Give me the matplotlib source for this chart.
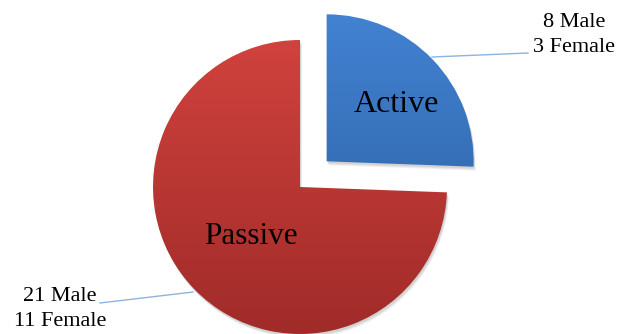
import numpy as np
import matplotlib
matplotlib.use("Agg")
import matplotlib.pyplot as plt
from matplotlib.colors import LinearSegmentedColormap

# Data
categories = ["Active", "Passive"]
male = [8, 21]
female = [3, 11]
totals = [m + f for m, f in zip(male, female)]
outer_labels = [f"{m} Male\n{f} Female" for m, f in zip(male, female)]

W, H = 620, 334
fig = plt.figure(figsize=(6.2, 3.34), dpi=100)
ax = fig.add_axes([0, 0, 1, 1])

center = (300, H - 187)
radius = 147
explode = [37, 0.0]  # offset in data units (pixels)

wedges, texts = ax.pie(totals, startangle=90, counterclock=False, explode=explode,
                       center=center, radius=radius, labels=None,
                       wedgeprops=dict(linewidth=0))

grads = [("#4282d2", "#2b5e9f"), ("#d0423d", "#a02b29")]
for w, (ctop, cbot) in zip(wedges, grads):
    # soft shadow
    for k, a in [(4, 0.05), (3, 0.06), (2, 0.07)]:
        sh = matplotlib.patches.Wedge((w.center[0] + k * 0.5, w.center[1] - k), w.r, w.theta1, w.theta2,
                                      facecolor="#000000", alpha=a, linewidth=0, zorder=0.5)
        ax.add_patch(sh)
    w.set_facecolor("none")
    w.set_zorder(2)
    cmap = LinearSegmentedColormap.from_list("g", [cbot, ctop])
    x0, y0 = w.center[0] - w.r, w.center[1] - w.r
    grad = np.linspace(0, 1, 256).reshape(-1, 1)
    im = ax.imshow(grad, cmap=cmap, origin="lower", aspect="auto",
                   extent=[x0, x0 + 2 * w.r, y0, y0 + 2 * w.r], zorder=1)
    im.set_clip_path(w)

serif = ["Liberation Serif", "DejaVu Serif"]
# inner labels
ax.text(396, H - 105, categories[0], ha="center", va="center", fontsize=23, family=serif, color="black", zorder=3)
ax.text(251, H - 236, categories[1], ha="center", va="center", fontsize=22.5, family=serif, color="black", zorder=3)

# outer labels
ax.text(574, H - 35, outer_labels[0], ha="center", va="center", fontsize=16, family=serif,
        linespacing=1.4, color="black")
ax.text(60, H - 309, outer_labels[1], ha="center", va="center", fontsize=16, family=serif,
        linespacing=1.4, color="black")

# leader lines
ax.plot([432, 528], [H - 57, H - 53], color="#8fb3e0", lw=1, zorder=3)
ax.plot([193, 100], [H - 292, H - 303], color="#8fb3e0", lw=1, zorder=0.8)

ax.set_xlim(0, W)
ax.set_ylim(0, H)
ax.set_aspect("auto")
ax.axis("off")
fig.savefig("out.png", dpi=100, facecolor="white")
